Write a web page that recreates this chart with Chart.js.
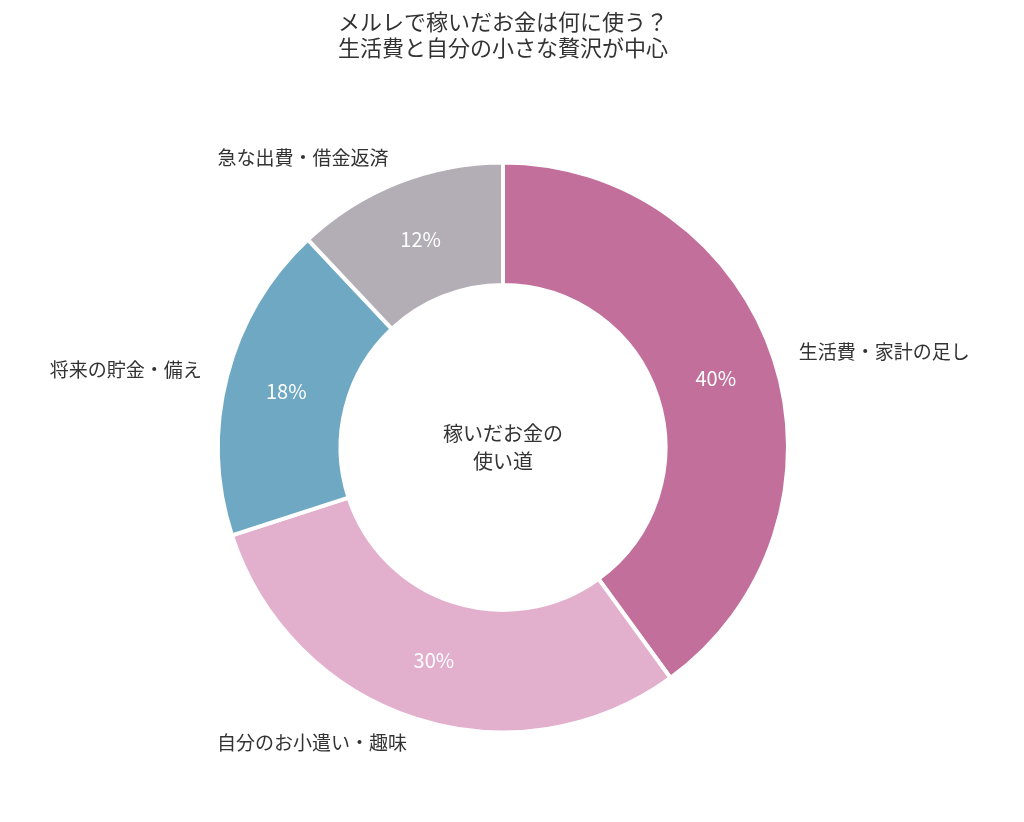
<!DOCTYPE html>
<html>
<head>
<meta charset="utf-8">
<script src="https://cdn.jsdelivr.net/npm/chart.js@4"></script>
<style>
  body { margin: 0; background: #fff; }
  #wrap { width: 1024px; height: 822px; }
</style>
</head>
<body>
<div id="wrap"><canvas id="chart"></canvas></div>
<script>
const categories = ['生活費・家計の足し', '自分のお小遣い・趣味', '将来の貯金・備え', '急な出費・借金返済'];
const shares = [40, 30, 18, 12];
const colors = ['#C2709B', '#E2AFCD', '#6EA8C3', '#B3AEB5'];
const FONT = '"Noto Sans CJK JP", "Noto Sans", sans-serif';

// draws the outside category labels, the percentages and the centre text
const labelPlugin = {
    id: 'labels',
    afterDatasetsDraw(chart) {
        const ctx = chart.ctx;
        const arcs = chart.getDatasetMeta(0).data;
        ctx.save();
        ctx.textBaseline = 'middle';
        arcs.forEach((arc, i) => {
            const mid = (arc.startAngle + arc.endAngle) / 2;
            const rIn = (arc.innerRadius + arc.outerRadius) / 2;
            ctx.fillStyle = '#fff';
            ctx.textAlign = 'center';
            ctx.font = '20px ' + FONT;
            ctx.fillText(shares[i] + '%', arc.x + Math.cos(mid) * rIn, arc.y + Math.sin(mid) * rIn);

            const rOut = arc.outerRadius + 26;
            const x = arc.x + Math.cos(mid) * rOut;
            ctx.fillStyle = '#333';
            ctx.font = '19px ' + FONT;
            ctx.textAlign = x > arc.x ? 'left' : 'right';
            ctx.fillText(categories[i], x, arc.y + Math.sin(mid) * rOut);
        });
        const c = arcs[0];
        ctx.fillStyle = '#333';
        ctx.textAlign = 'center';
        ctx.font = '20px ' + FONT;
        ctx.fillText('稼いだお金の', c.x, c.y - 14);
        ctx.fillText('使い道', c.x, c.y + 14);
        ctx.restore();
    }
};

new Chart(document.getElementById('chart'), {
    type: 'doughnut',
    data: {
        labels: categories,
        datasets: [{
            data: shares,
            backgroundColor: colors,
            borderColor: '#fff',
            borderWidth: 4,
            radius: 285,
            cutout: '57%'
        }]
    },
    options: {
        responsive: true,
        maintainAspectRatio: false,
        animation: false,
        layout: { padding: { left: 0, right: 18, top: 0, bottom: 0 } },
        plugins: {
            legend: { display: false },
            tooltip: { enabled: false },
            title: {
                display: true,
                text: ['メルレで稼いだお金は何に使う？', '生活費と自分の小さな贅沢が中心'],
                color: '#333',
                font: { family: FONT, size: 22, weight: 'normal', lineHeight: 1.2 },
                padding: { top: 8, bottom: 12 }
            }
        }
    },
    plugins: [labelPlugin]
});
</script>
</body>
</html>
